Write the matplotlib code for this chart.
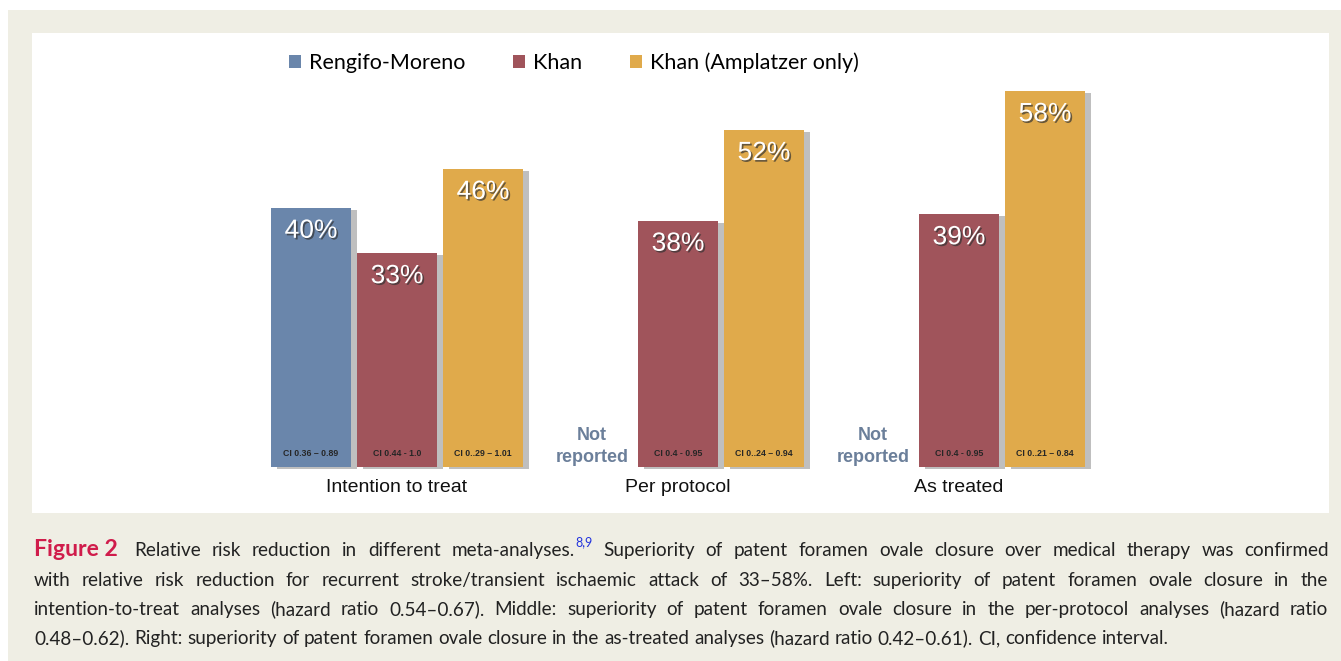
import matplotlib.pyplot as plt
import matplotlib.patheffects as pe
from matplotlib.patches import Rectangle, Patch

# Data
groups = ['Intention to treat', 'Per protocol', 'As treated']
series = ['Rengifo-Moreno', 'Khan', 'Khan (Amplatzer only)']
rengifo = [40, None, None]
khan = [33, 38, 39]
khan_amp = [46, 52, 58]
ci_rengifo = ['CI 0.36 – 0.89', None, None]
ci_khan = ['CI 0.44 - 1.0', 'CI 0.4 - 0.95', 'CI 0.4 - 0.95']
ci_khan_amp = ['CI 0..29 – 1.01', 'CI 0..24 – 0.94', 'CI 0..21 – 0.84']
colors = ['#6a86ab', '#a0545b', '#e0aa4b']

W, H = 1341, 661


def fx(x):
    return x / W


def fy(y):
    return 1 - y / H


fig = plt.figure(figsize=(W / 100, H / 100), dpi=100)
fig.patch.set_facecolor('white')
fig.add_artist(Rectangle((fx(8), 0), 1 - fx(8), fy(10), transform=fig.transFigure,
                         facecolor='#efeee4', edgecolor='none', zorder=0))

# chart panel (white box)
left, right, top, bottom = 32, 1329, 33, 513
ax = fig.add_axes([fx(left), fy(bottom), fx(right - left), fy(top) - fy(bottom)])
ax.set_facecolor('white')
for s in ax.spines.values():
    s.set_visible(False)
ax.set_xticks([])
ax.set_yticks([])

step = 86.0           # px between neighbouring bars
ppu = 6.48            # px per percent
base = 467            # baseline pixel
g0 = 397              # centre of first group
ax.set_xlim((left - g0) / step, (right - g0) / step)
ax.set_ylim(-(bottom - base) / ppu, (base - top) / ppu)

gpos = [0, 281 / step, 562 / step]
width = 80 / step
shadow = [pe.SimplePatchShadow(offset=(4, -1.5), shadow_rgbFace='#808080', alpha=0.5),
          pe.Normal()]
txt_shadow = [pe.SimplePatchShadow(offset=(1.2, -1.2), shadow_rgbFace='#333333', alpha=0.7),
              pe.Normal()]

all_vals = [rengifo, khan, khan_amp]
all_ci = [ci_rengifo, ci_khan, ci_khan_amp]
for i, (vals, cis) in enumerate(zip(all_vals, all_ci)):
    for g, v in enumerate(vals):
        x = gpos[g] + (i - 1)
        if v is None:
            ax.text(x, (base - 435) / ppu, 'Not', ha='center', va='center',
                    fontsize=13, fontweight='bold', color='#6b7f9a',
                    family='Liberation Sans')
            ax.text(x, (base - 457) / ppu, 'reported', ha='center', va='center',
                    fontsize=13, fontweight='bold', color='#6b7f9a',
                    family='Liberation Sans')
            continue
        b = ax.bar(x, v, width=width, color=colors[i], zorder=2)
        b[0].set_path_effects(shadow)
        ax.text(x, v - 23 / ppu, '%d%%' % v, ha='center', va='center',
                fontsize=19, color='white', family='Liberation Sans',
                path_effects=txt_shadow, zorder=3)
        ax.text(x, (base - 453) / ppu, cis[g], ha='center', va='center',
                fontsize=6.3, fontweight='bold', color='#262626',
                family='Liberation Sans', zorder=3)

for g, name in enumerate(groups):
    ax.text(gpos[g], -(487 - base) / ppu, name, ha='center', va='center',
            fontsize=14, color='#111111', family='Liberation Sans')

handles = [Patch(facecolor=c, edgecolor='none') for c in colors]
fig.legend(handles, series, loc='center', bbox_to_anchor=(fx(574), fy(63)), ncol=3,
           frameon=False, handlelength=0.55, handleheight=0.55, handletextpad=0.4,
           columnspacing=2.2, prop={'family': 'Lato', 'size': 15.5})

# caption, justified line by line
cap_size = 13.6
lines = [
    [('Figure 2', 'red'), ('Relative risk reduction in different meta-analyses.', 'n'),
     ('8,9', 'sup'), ('Superiority of patent foramen ovale closure over medical therapy was confirmed', 'n')],
    [('with relative risk reduction for recurrent stroke/transient ischaemic attack of 33–58%. '
      'Left: superiority of patent foramen ovale closure in the', 'n')],
    [('intention-to-treat analyses (hazard ratio 0.54–0.67). Middle: superiority of patent '
      'foramen ovale closure in the per-protocol analyses (hazard ratio', 'n')],
    [('0.48–0.62). Right: superiority of patent foramen ovale closure in the as-treated '
      'analyses (hazard ratio 0.42–0.61). CI, confidence interval.', 'n')],
]
line_y = [550, 580, 609, 638]
x0, x1 = 34, 1328
renderer = fig.canvas.get_renderer()

for li, (parts, y) in enumerate(zip(lines, line_y)):
    words = []  # (text, style, attach_to_previous)
    for text, style in parts:
        if style in ('sup', 'red'):
            words.append((text, style, style == 'sup'))
        else:
            for w in text.split(' '):
                words.append((w, style, False))
    arts = []
    for w, style, att in words:
        kw = dict(family='Lato', fontsize=cap_size, color='#222222', va='baseline')
        yy = y + 6
        if style == 'red':
            kw.update(fontweight='bold', color='#d01c4b', fontsize=cap_size + 3)
        elif style == 'sup':
            kw.update(fontsize=9, color='#2233dd')
            yy = y - 4
        t = fig.text(0, fy(yy), w, **kw)
        wd = t.get_window_extent(renderer).width
        arts.append((t, wd, att, style))
    n_gaps = sum(1 for a in arts[1:] if not a[2])
    total = sum(a[1] for a in arts)
    if li < len(lines) - 1:
        gap = (x1 - x0 - total - 6 * (li == 0)) / n_gaps
    else:
        gap = 0.26 * cap_size * 100 / 72
    x = x0
    for k, (t, wd, att, style) in enumerate(arts):
        if k > 0:
            x += 1 if att else gap
            if arts[k - 1][3] == 'red':
                x += 6
        t.set_x(fx(x))
        x += wd

fig.savefig('out.png', dpi=100)
